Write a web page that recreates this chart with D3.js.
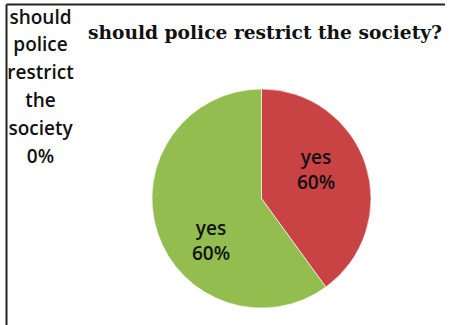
<!DOCTYPE html>
<html>
<head>
<meta charset="utf-8">
<script src="https://cdn.jsdelivr.net/npm/d3@7"></script>
<style>
  body { margin: 0; background: #fff; }
  svg { display: block; }
</style>
</head>
<body>
<div id="chart"></div>
<script>
const title = "should police restrict the society?"
const categories = ["should police restrict the society", "yes", "yes"]
const values = [0, 40, 60]
const valueLabels = ["0%", "60%", "60%"]
const colors = ["#4F81BD", "#C94244", "#93BE4F"]

const width = 449
const height = 325

const svg = d3.select("#chart").append("svg")
    .attr("width", width)
    .attr("height", height)

// frame: only top and left lines are visible
svg.append("line")
    .attr("x1", 6.5).attr("y1", 4.5).attr("x2", 445).attr("y2", 4.5)
    .attr("stroke", "#222").attr("stroke-width", 2)
svg.append("line")
    .attr("x1", 6.5).attr("y1", 4.5).attr("x2", 6.5).attr("y2", height)
    .attr("stroke", "#222").attr("stroke-width", 2)

svg.append("text")
    .attr("x", 88)
    .attr("y", 39)
    .attr("textLength", 354)
    .attr("lengthAdjust", "spacingAndGlyphs")
    .style("font-family", "'DejaVu Serif', serif")
    .style("font-weight", "bold")
    .style("font-size", "19px")
    .attr("fill", "#111")
    .text(title)

const cx = 261.5
const cy = 198.5
const radius = 109.5

const pie = d3.pie().sort(null).value(d => d)
const arcs = pie(values)
const arc = d3.arc().innerRadius(0).outerRadius(radius)
const labelArc = d3.arc().innerRadius(radius * 0.6).outerRadius(radius * 0.6)

const g = svg.append("g").attr("transform", `translate(${cx},${cy})`)

g.selectAll("path")
    .data(arcs)
    .join("path")
    .attr("d", arc)
    .attr("fill", (d, i) => colors[i])
    .attr("stroke", "#fff")
    .attr("stroke-width", d => d.value > 0 ? 0.6 : 0)

const labelFont = "'Open Sans', 'Noto Sans', sans-serif"

// labels inside the visible slices
const nudge = [[0, 0], [-8, -14], [12, 16]]
arcs.forEach((d, i) => {
    if (d.value === 0) return
    const [x, y] = labelArc.centroid(d)
    const lx = x + nudge[i][0]
    const t = g.append("text")
        .attr("text-anchor", "middle")
        .attr("y", y + nudge[i][1])
        .style("font-family", labelFont)
        .style("font-weight", 600)
        .style("font-size", "19px")
        .attr("fill", "#111")
    t.append("tspan").attr("x", lx).text(categories[i])
    t.append("tspan").attr("x", lx).attr("dy", 25).text(valueLabels[i])
})

// label of the zero slice, pushed to the left edge
const zeroLines = categories[0].split(" ").concat([valueLabels[0]])
const zt = svg.append("text")
    .attr("text-anchor", "middle")
    .style("font-family", labelFont)
    .style("font-weight", 600)
    .style("font-size", "19px")
    .attr("fill", "#111")
zeroLines.forEach((line, i) => {
    zt.append("tspan").attr("x", 40.5).attr("y", 23.5 + i * 27.8).text(line)
})
</script>
</body>
</html>
